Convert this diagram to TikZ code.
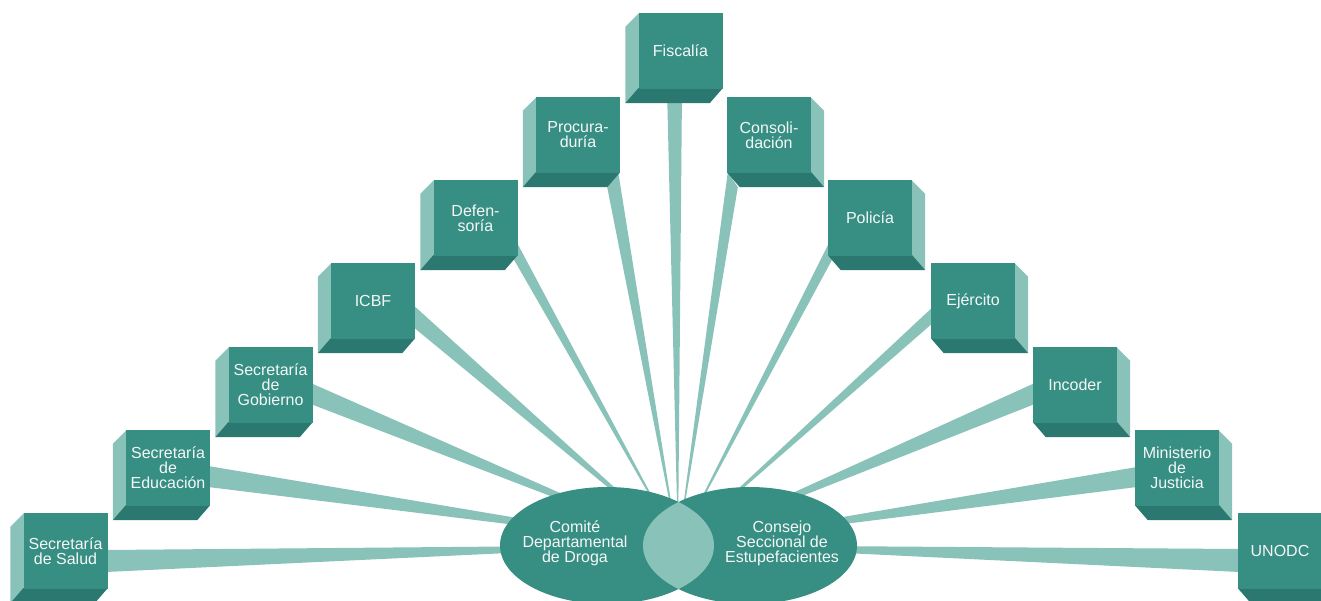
\documentclass[tikz,border=0pt]{standalone}
\usepackage{fontspec}
\setmainfont{Liberation Sans}
\usetikzlibrary{calc,shapes.geometric}
\definecolor{frontc}{HTML}{378E83}
\definecolor{lightc}{HTML}{89C2B9}
\definecolor{darkc}{HTML}{2A7870}
\definecolor{txtc}{HTML}{F4F8F7}
\pgfdeclarelayer{bg}
\pgfdeclarelayer{mid}
\pgfsetlayers{bg,mid,main}
\tikzset{
  face/.style={fill=frontc, draw=none, minimum width=84pt, minimum height=76pt, inner sep=0pt,
    text=txtc, align=center, font=\fontsize{16}{15}\selectfont},
  ray/.style={fill=lightc, draw=none},
  sideface/.style={fill=lightc},
  botface/.style={fill=darkc},
  bubble/.style={ellipse, fill=frontc, draw=none, minimum width=214pt, minimum height=117pt, inner sep=0pt},
  btext/.style={text=txtc, align=center, font=\fontsize{16}{15}\selectfont, inner sep=0pt},
}
\newcommand{\lbox}[1]{%
  \begin{pgfonlayer}{mid}
  \fill[sideface] ($(#1.north west)+(1,0)$) -- ($(#1.north west)+(-13,14)$) -- ($(#1.south west)+(-13,14)$) -- ($(#1.south west)+(1,0)$) -- cycle;
  \fill[botface] ($(#1.south west)+(0,-1)$) -- ($(#1.south east)+(0,-1)$) -- ($(#1.south east)+(-13,14)$) -- ($(#1.south west)+(-13,14)$) -- cycle;
  \end{pgfonlayer}
}
\newcommand{\rbox}[1]{%
  \begin{pgfonlayer}{mid}
  \fill[sideface] ($(#1.north east)+(-1,0)$) -- ($(#1.north east)+(13,14)$) -- ($(#1.south east)+(13,14)$) -- ($(#1.south east)+(-1,0)$) -- cycle;
  \fill[botface] ($(#1.south west)+(0,-1)$) -- ($(#1.south east)+(0,-1)$) -- ($(#1.south east)+(13,14)$) -- ($(#1.south west)+(13,14)$) -- cycle;
  \end{pgfonlayer}
}
\begin{document}
\begin{tikzpicture}[x=1pt, y=-1pt]
\useasboundingbox (0,0) rectangle (1321,600);
\clip (0,0) rectangle (1321,600);

% front faces
\node[face] (sal) at (65.5,551) {\fontsize{16}{18}\selectfont Secretaría\\de Salud};
\node[face] (edu) at (168,468) {Secretaría\\de\\Educación};
\node[face] (gob) at (270.5,385) {Secretaría\\de\\Gobierno};
\node[face] (icbf) at (373,301) {ICBF};
\node[face] (def) at (475.5,218) {Defen-\\soría};
\node[face] (pro) at (578,135) {Procura-\\duría};
\node[face] (fis) at (680.5,51) {Fiscalía};
\node[face] (con) at (769,135) {Consoli-\\dación};
\node[face] (pol) at (870,218) {Policía};
\node[face] (eje) at (973,301) {Ejército};
\node[face] (inc) at (1075,385) {Incoder};
\node[face] (min) at (1177,468) {Ministerio\\de\\Justicia};
\node[face] (uno) at (1280,551) {UNODC};

\lbox{sal}\lbox{edu}\lbox{gob}\lbox{icbf}\lbox{def}\lbox{pro}\lbox{fis}
\rbox{con}\rbox{pol}\rbox{eje}\rbox{inc}\rbox{min}\rbox{uno}

\coordinate (hub) at (678,545);

% rays
\begin{pgfonlayer}{bg}
\fill[ray] ($(sal.east)+(-2,-1)$) -- ($(sal.east)+(-2,21)$) -- (hub) -- cycle;
\fill[ray] ($(edu.east)+(-2,-2)$) -- ($(edu.east)+(-2,19)$) -- (hub) -- cycle;
\fill[ray] ($(gob.east)+(-2,-2)$) -- ($(gob.east)+(-2,19)$) -- (hub) -- cycle;
\fill[ray] ($(icbf.east)+(-2,4)$) -- ($(icbf.east)+(-2,26)$) -- (hub) -- cycle;
\fill[ray] ($(def.south east)+(-1,-14)$) -- ($(def.south east)+(-4,3)$) -- (hub) -- cycle;
\fill[ray] ($(pro.south east)+(-2,-1)$) -- ($(pro.south east)+(-13,14)$) -- (hub) -- cycle;
\fill[ray] ($(fis.south)+(-13.5,0)$) -- ($(fis.south)+(1.5,0)$) -- (hub) -- cycle;
\fill[ray] ($(con.south west)+(1,-1)$) -- ($(con.south west)+(11,14)$) -- (hub) -- cycle;
\fill[ray] ($(pol.south west)+(1,-13)$) -- ($(pol.south west)+(4,4)$) -- (hub) -- cycle;
\fill[ray] ($(eje.west)+(2,6)$) -- ($(eje.west)+(2,22)$) -- (hub) -- cycle;
\fill[ray] ($(inc.west)+(2,-2)$) -- ($(inc.west)+(2,19)$) -- (hub) -- cycle;
\fill[ray] ($(min.west)+(2,-1)$) -- ($(min.west)+(2,19)$) -- (hub) -- cycle;
\fill[ray] ($(uno.west)+(2,-2)$) -- ($(uno.west)+(2,21)$) -- (hub) -- cycle;
\end{pgfonlayer}

% ellipses
\node[bubble] (comite) at (607,545.5) {};
\node[bubble] (consejo) at (750,545.5) {};
\begin{scope}
  \clip (comite.center) ellipse [x radius=107pt, y radius=58.5pt];
  \fill[lightc] (consejo.center) ellipse [x radius=107pt, y radius=58.5pt];
\end{scope}
\node[btext] (comiteT) at (575,543) {Comité\\Departamental\\de Droga};
\node[btext] (consejoT) at (782,543) {Consejo\\Seccional de\\Estupefacientes};
\end{tikzpicture}
\end{document}
